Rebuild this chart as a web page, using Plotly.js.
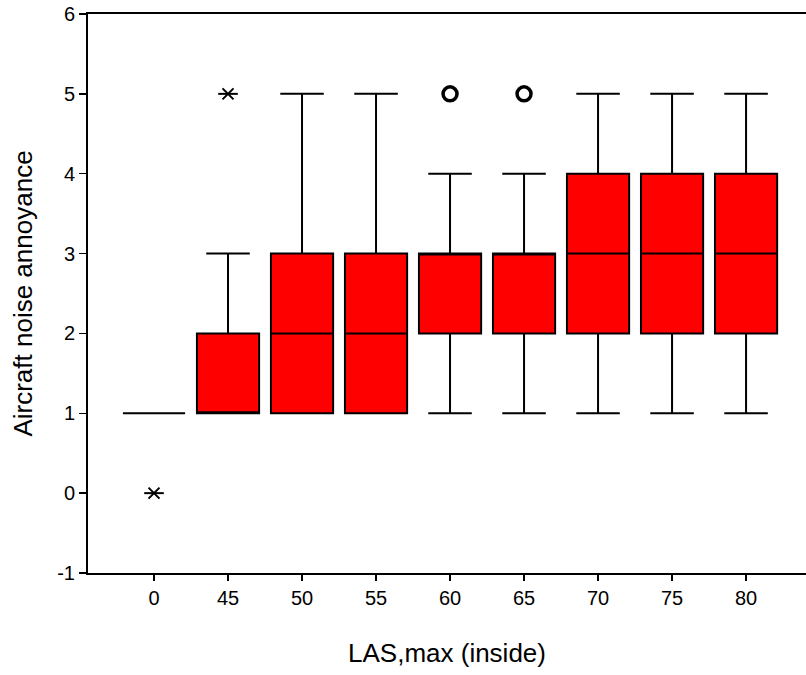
<!DOCTYPE html>
<html>
<head>
<meta charset="utf-8">
<script src="https://cdn.plot.ly/plotly-3.0.1.min.js"></script>
<style>html,body{margin:0;padding:0;background:#fff;}#chart{width:806px;height:675px;}</style>
</head>
<body>
<div id="chart"></div>
<script>
const categories = ['0','45','50','55','60','65','70','75','80'];
const q1Values = [1,1,1,1,2,2,2,2,2];
const medianValues = [1,1,2,2,3,3,3,3,3];
const q3Values = [1,2,3,3,3,3,4,4,4];
const lowerWhisker = [1,1,1,1,1,1,1,1,1];
const upperWhisker = [1,3,5,5,4,4,5,5,5];
const extremeX = ['0','45'];
const extremeY = [0,5];
const outlierX = ['60','65'];
const outlierY = [5,5];
const yTicks = [-1,0,1,2,3,4,5,6];
const yTickLabels = ['-1','0','1','2','3','4','5','6'];

const traces = [
  {
    type: 'box',
    x: categories,
    q1: q1Values,
    median: medianValues,
    q3: q3Values,
    lowerfence: lowerWhisker,
    upperfence: upperWhisker,
    width: 0.84,
    whiskerwidth: 0.7,
    fillcolor: '#FF0000',
    line: {color: '#000000', width: 2},
    boxpoints: false,
    hoverinfo: 'skip',
    showlegend: false
  },
  {
    type: 'scatter', mode: 'markers', x: extremeX, y: extremeY,
    marker: {symbol: 'x-thin-open', size: 11, color: '#000', line: {color: '#000', width: 2}},
    showlegend: false, hoverinfo: 'skip'
  },
  {
    type: 'scatter', mode: 'markers', x: extremeX, y: extremeY,
    marker: {symbol: 'line-ew-open', size: 14, color: '#000', line: {color: '#000', width: 2}},
    showlegend: false, hoverinfo: 'skip'
  },
  {
    type: 'scatter', mode: 'markers', x: outlierX, y: outlierY,
    marker: {symbol: 'circle-open', size: 14, color: '#000', line: {color: '#000', width: 3.5}},
    showlegend: false, hoverinfo: 'skip'
  }
];

const layout = {
  width: 806, height: 675,
  margin: {l: 88, r: 0, t: 14, b: 102},
  paper_bgcolor: '#fff', plot_bgcolor: '#fff',
  font: {family: '"Liberation Sans", Arial, sans-serif', color: '#000', size: 20},
  xaxis: {
    type: 'category',
    categoryorder: 'array', categoryarray: categories,
    range: [-0.892, 8.81],
    showline: true, linecolor: '#000', linewidth: 2, mirror: true,
    showgrid: false, zeroline: false,
    ticks: 'outside', ticklen: 6, tickwidth: 1.5, tickcolor: '#000',
    tickfont: {size: 20},
    title: {text: 'LAS,max (inside)', font: {size: 26}, standoff: 36}
  },
  yaxis: {
    range: [-1, 6],
    tickvals: yTicks,
    ticktext: yTickLabels,
    showline: true, linecolor: '#000', linewidth: 2,
    showgrid: false, zeroline: false,
    ticks: 'outside', ticklen: 7, tickwidth: 1.5, tickcolor: '#000',
    tickfont: {size: 20},
    title: {text: 'Aircraft noise annoyance', font: {size: 26}, standoff: 17}
  }
};

Plotly.newPlot('chart', traces, layout, {displayModeBar: false, staticPlot: true});
</script>
</body>
</html>
